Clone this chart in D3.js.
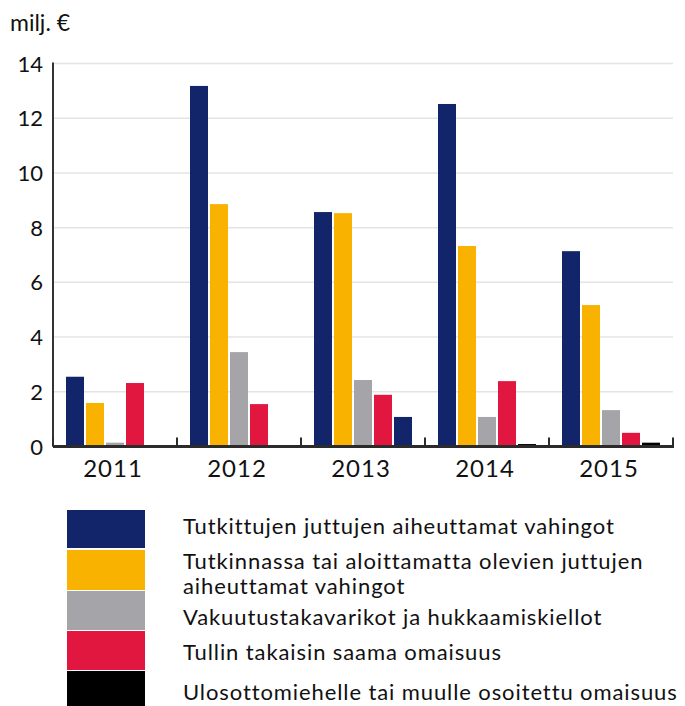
<!DOCTYPE html>
<html>
<head>
<meta charset="utf-8">
<script src="https://cdn.jsdelivr.net/npm/d3@7"></script>
<style>
  body { margin: 0; background: #fff; }
  text { font-family: "Lato", "Open Sans", sans-serif; fill: #111; }
</style>
</head>
<body>
<svg id="chart" width="685" height="706"></svg>
<script>
// data (milj. €)
let years = ["2011", "2012", "2013", "2014", "2015"];
let series = ["tutkitut", "tutkinnassa", "vakuutus", "tulli", "ulosotto"];
let seriesLabels = [
    ["Tutkittujen juttujen aiheuttamat vahingot"],
    ["Tutkinnassa tai aloittamatta olevien juttujen", "aiheuttamat vahingot"],
    ["Vakuutustakavarikot ja hukkaamiskiellot"],
    ["Tullin takaisin saama omaisuus"],
    ["Ulosottomiehelle tai muulle osoitettu omaisuus"]
];
let tutkitut    = [2.55, 13.18, 8.57, 12.52, 7.14];
let tutkinnassa = [1.59, 8.86, 8.53, 7.33, 5.17];
let vakuutus    = [0.14, 3.45, 2.43, 1.08, 1.33];
let tulli       = [2.32, 1.55, 1.89, 2.39, 0.50];
let ulosotto    = [0.02, 0.00, 1.08, 0.09, 0.14];
let yTicks = [0, 2, 4, 6, 8, 10, 12, 14];

let colors = ["#12246a", "#f9b200", "#a4a4a9", "#e1173f", "#000000"];
// in the original the 2013 value of the last series is drawn in navy
let navyCells = ["2013"];

let values = [tutkitut, tutkinnassa, vakuutus, tulli, ulosotto];
let rows = years.map((yr, i) => ({
    year: yr,
    vals: series.map((s, j) => ({key: s, idx: j, year: yr, v: values[j][i]}))
}));

let svg = d3.select("#chart");
let plotLeft = 53, plotRight = 673, plotTop = 63.5, plotBottom = 446.5;

let x = d3.scaleBand().domain(years).range([plotLeft, plotRight]);
let xInner = d3.scaleBand().domain(series).range([13, 111]).paddingInner(0.1);
let y = d3.scaleLinear().domain([0, 14]).range([plotBottom, plotTop]);

// gridlines
svg.append("g").selectAll("line").data(yTicks.filter(d => d > 0)).enter().append("line")
    .attr("x1", plotLeft).attr("x2", plotRight)
    .attr("y1", d => y(d)).attr("y2", d => y(d))
    .style("stroke", "#e4e4e2").style("stroke-width", "1.5px");

// y labels
svg.append("g").selectAll("text").data(yTicks).enter().append("text")
    .attr("x", 43).attr("y", d => y(d) + 8)
    .attr("text-anchor", "end")
    .style("font-size", "22px")
    .text(d => d);

svg.append("text").attr("x", 10).attr("y", 31)
    .style("font-size", "23px").text("milj. €");

// bars
let groups = svg.append("g").selectAll("g").data(rows).enter().append("g")
    .attr("transform", d => "translate(" + x(d.year) + ",0)");

groups.selectAll("rect").data(d => d.vals).enter().append("rect")
    .attr("x", d => xInner(d.key))
    .attr("width", xInner.bandwidth())
    .attr("y", d => y(d.v))
    .attr("height", d => y(0) - y(d.v))
    .style("fill", d => (d.idx === 4 && navyCells.includes(d.year)) ? colors[0] : colors[d.idx]);

// axes
svg.append("line").attr("x1", plotLeft).attr("x2", plotLeft).attr("y1", plotTop - 1).attr("y2", plotBottom)
    .style("stroke", "#333").style("stroke-width", "2px");

svg.append("line").attr("x1", plotLeft).attr("x2", plotRight + 1).attr("y1", plotBottom).attr("y2", plotBottom)
    .style("stroke", "#2b2b2b").style("stroke-width", "3px");

let tickPos = years.map(d => x(d)).concat([plotRight]);
svg.append("g").selectAll("line").data(tickPos).enter().append("line")
    .attr("x1", d => d).attr("x2", d => d)
    .attr("y1", plotBottom).attr("y2", plotBottom - 9)
    .style("stroke", "#2b2b2b").style("stroke-width", "2px");

svg.append("g").selectAll("text").data(years).enter().append("text")
    .attr("x", d => x(d) + x.bandwidth() / 2 - 2)
    .attr("y", 477)
    .attr("text-anchor", "middle")
    .style("font-size", "24px")
    .style("letter-spacing", "1px")
    .text(d => d);

// legend
let swatchY = [510, 550, 591, 631, 671];
let swatchH = [38, 40, 39, 39, 35];
let textY = [[534], [569, 594], [625], [660], [700]];
let legend = svg.append("g");
series.forEach((s, i) => {
    legend.append("rect")
        .attr("x", 67).attr("y", swatchY[i])
        .attr("width", 78).attr("height", swatchH[i])
        .style("fill", colors[i]);
    seriesLabels[i].forEach((line, k) => {
        legend.append("text")
            .attr("x", 183).attr("y", textY[i][k])
            .style("font-size", "22px")
            .style("letter-spacing", "0.9px")
            .text(line);
    });
});
</script>
</body>
</html>
